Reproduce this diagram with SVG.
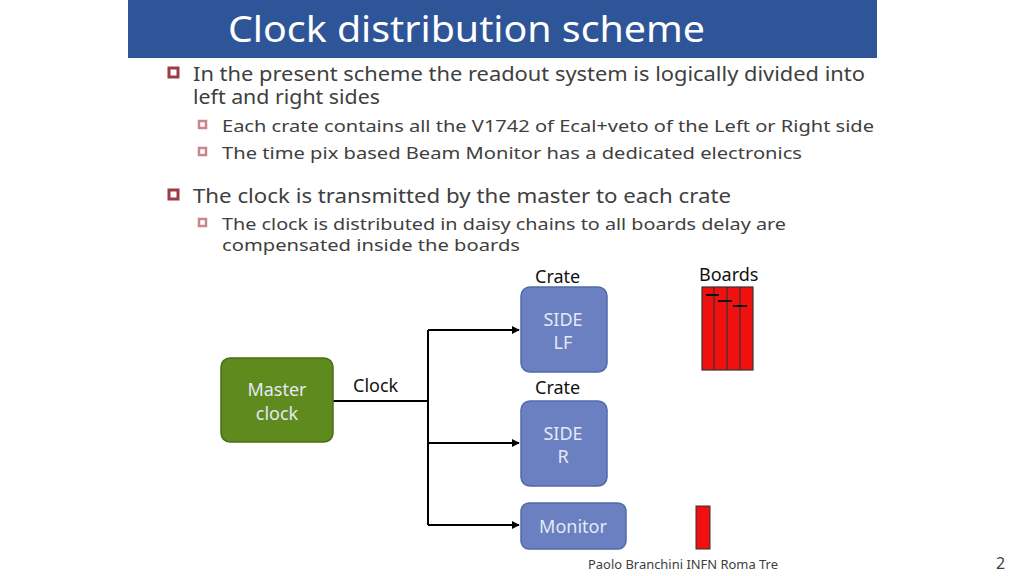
<svg xmlns="http://www.w3.org/2000/svg" width="1024" height="576" viewBox="0 0 1024 576">
<style>
text{font-family:"Noto Sans","DejaVu Sans",sans-serif;fill:#404040}
.b1{font-size:19px}.b2{font-size:17px}
.node{fill:#6a80c0;stroke:#4f6aab;stroke-width:1.5}
.nt{fill:#e4e9f6;font-size:18px;text-anchor:middle}
.lbl{font-size:18px;fill:#111}
.c{fill:none;stroke:#000;stroke-width:2}
</style>
<defs><marker id="ar" viewBox="0 0 10 10" refX="9" refY="5" markerWidth="4" markerHeight="4" orient="auto"><path d="M0,0L10,5L0,10z" fill="#000"/></marker></defs>
<rect width="1024" height="576" fill="#fff"/>
<rect x="128" y="0" width="749" height="58" fill="#2e5597"/>
<text x="228" y="42" textLength="477" lengthAdjust="spacingAndGlyphs" style="font-size:36px;fill:#fff">Clock distribution scheme</text>
<g fill="none" stroke="#9b3c46">
<rect x="169" y="68" width="9" height="9" stroke-width="3"/>
<rect x="169" y="190" width="9" height="9" stroke-width="3"/>
</g>
<g fill="none" stroke="#c9878d" stroke-width="2.5">
<rect x="199" y="121" width="7" height="7"/><rect x="199" y="148" width="7" height="7"/><rect x="199" y="219" width="7" height="7"/>
</g>
<g lengthAdjust="spacingAndGlyphs">
<text class="b1" x="193" y="81" textLength="672" lengthAdjust="spacingAndGlyphs">In the present scheme the readout system is logically divided into</text>
<text class="b1" x="193" y="104" textLength="187" lengthAdjust="spacingAndGlyphs">left and right sides</text>
<text class="b2" x="222" y="132" textLength="652" lengthAdjust="spacingAndGlyphs">Each crate contains all the V1742 of Ecal+veto of the Left or Right side</text>
<text class="b2" x="222" y="159" textLength="580" lengthAdjust="spacingAndGlyphs">The time pix based Beam Monitor has a dedicated electronics</text>
<text class="b1" x="193" y="203" textLength="538" lengthAdjust="spacingAndGlyphs">The clock is transmitted by the master to each crate</text>
<text class="b2" x="222" y="230" textLength="564" lengthAdjust="spacingAndGlyphs">The clock is distributed in daisy chains to all boards delay are</text>
<text class="b2" x="222" y="251" textLength="298" lengthAdjust="spacingAndGlyphs">compensated inside the boards</text>
</g>
<g id="connectors">
<path class="c" d="M333,401H428M428,330V525M428,330H519" marker-end="url(#ar)"/>
<path class="c" d="M428,443H519" marker-end="url(#ar)"/>
<path class="c" d="M428,525H519" marker-end="url(#ar)"/>
</g>
<g id="master"><rect x="221" y="358" width="112" height="84" rx="9" fill="#5e8a1e" stroke="#4a6e17" stroke-width="1.5"/>
<text class="nt" x="277" y="396">Master</text><text class="nt" x="277" y="420">clock</text></g>
<g id="sidelf"><rect class="node" x="521" y="287" width="86" height="85" rx="9"/>
<text class="nt" x="563" y="326">SIDE</text><text class="nt" x="563" y="349">LF</text></g>
<g id="sider"><rect class="node" x="521" y="401" width="86" height="85" rx="9"/>
<text class="nt" x="563" y="440">SIDE</text><text class="nt" x="563" y="463">R</text></g>
<g id="monitor"><rect class="node" x="521" y="503" width="105" height="46" rx="8"/>
<text class="nt" x="573" y="533">Monitor</text></g>
<text class="lbl" x="535" y="283">Crate</text>
<text class="lbl" x="535" y="394">Crate</text>
<text class="lbl" x="353" y="392">Clock</text>
<text class="lbl" x="699" y="281">Boards</text>
<g id="boards" stroke="#333" stroke-width="1.2">
<rect x="702" y="287" width="51" height="83" fill="#f01010"/>
<path d="M714,287V370M727,287V370M740,287V370"/>
<path stroke="#111" stroke-width="2" d="M706,295H719M718,301H732M733,306H747"/>
</g>
<g id="board2"><rect x="696" y="506" width="14" height="43" fill="#f01010" stroke="#333" stroke-width="1"/></g>
<text x="588" y="569" textLength="190" lengthAdjust="spacingAndGlyphs" style="font-size:12px">Paolo Branchini INFN Roma Tre</text>
<text x="996" y="569" style="font-size:16px">2</text>
</svg>
